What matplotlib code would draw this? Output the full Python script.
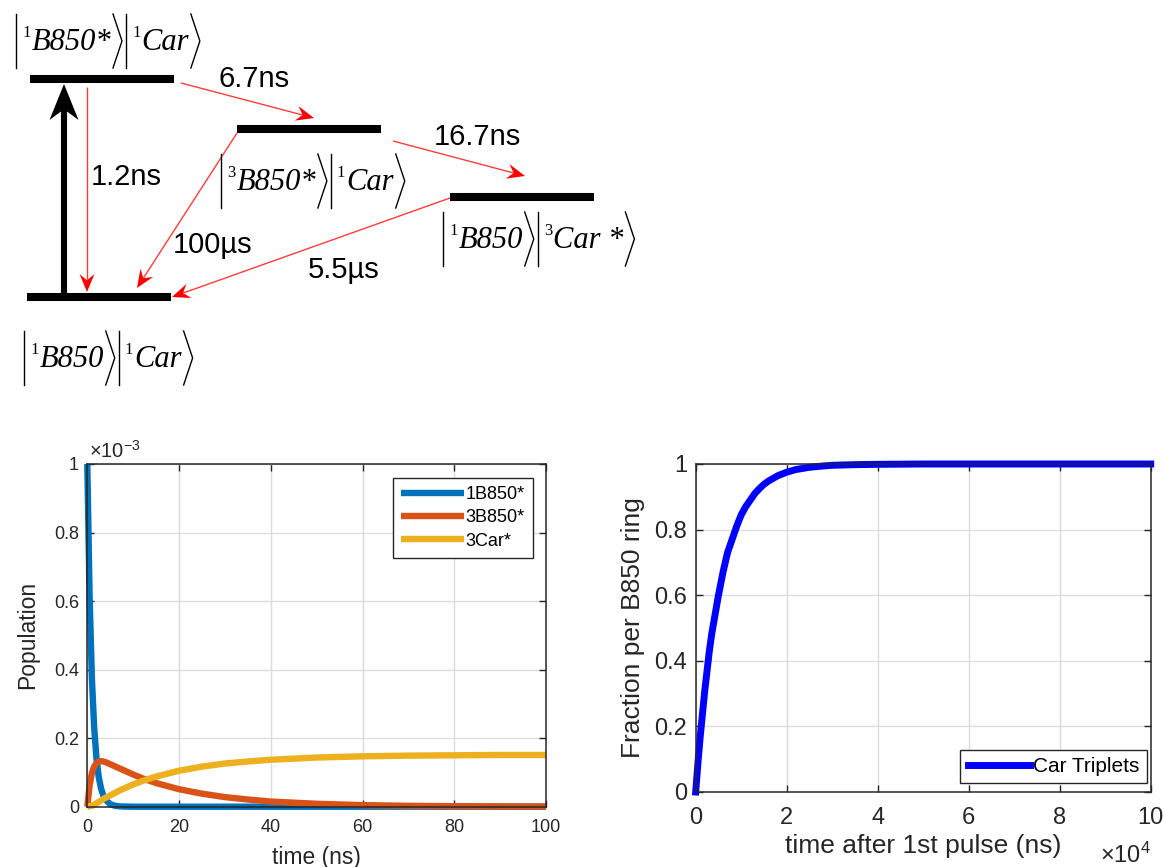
import matplotlib
matplotlib.use('Agg')
import matplotlib.pyplot as plt
import numpy as np
from matplotlib.ticker import FixedLocator, FuncFormatter

plt.rcParams['font.family'] = ['Liberation Sans', 'DejaVu Sans']
plt.rcParams['mathtext.fontset'] = 'custom'
plt.rcParams['mathtext.rm'] = 'Liberation Sans'
plt.rcParams['mathtext.it'] = 'Liberation Sans:italic'
plt.rcParams['mathtext.bf'] = 'Liberation Sans:bold'

# ---------------- data ----------------
# each state: list of (spin multiplicity superscript, species) kets
state_singlet = [('1', 'B850*'), ('1', 'Car')]
state_b850_triplet = [('3', 'B850*'), ('1', 'Car')]
state_car_triplet = [('1', 'B850'), ('3', 'Car *')]
state_ground = [('1', 'B850'), ('1', 'Car')]

lifetime_isc = '6.7ns'
lifetime_tt = '16.7ns'
lifetime_fluor = '1.2ns'
lifetime_b850_trip = '100µs'
lifetime_car_trip = '5.5µs'

# populations (units of 1e-3) vs time (ns)
t_pop = [0, 0.5, 1, 1.5, 2, 2.5, 3, 3.5, 4, 5, 6, 7, 8, 10, 12, 15, 20, 25,
         30, 35, 40, 50, 60, 70, 80, 90, 100]
pop_1B850 = [1.0, 0.612, 0.375, 0.23, 0.141, 0.086, 0.053, 0.032, 0.02, 0.0074,
             0.0028, 0.001, 0.0004, 0, 0, 0, 0, 0, 0, 0, 0, 0, 0, 0, 0, 0, 0]
pop_3B850 = [0, 0.062, 0.098, 0.117, 0.127, 0.132, 0.133, 0.132, 0.130, 0.124,
             0.118, 0.112, 0.106, 0.094, 0.083, 0.069, 0.051, 0.038, 0.028,
             0.021, 0.015, 0.0085, 0.0046, 0.0025, 0.0014, 0.0008, 0.0004]
pop_3Car = [0, 0.001, 0.0035, 0.006, 0.0100, 0.014, 0.018, 0.022, 0.026, 0.033,
            0.040, 0.047, 0.053, 0.065, 0.075, 0.088, 0.105, 0.117, 0.126,
            0.132, 0.137, 0.1435, 0.147, 0.149, 0.150, 0.151, 0.151]
series_names = ['1B850*', '3B850*', '3Car*']

# car triplet fraction vs time after 1st pulse (units of 1e4 ns)
t_pulse = [0, 0.05, 0.1, 0.15, 0.2, 0.25, 0.3, 0.35, 0.4, 0.45, 0.5, 0.6, 0.7,
           0.8, 0.9, 1.0, 1.1, 1.2, 1.3, 1.4, 1.5, 1.6, 1.8, 2.0, 2.2, 2.5,
           2.8, 3.0, 3.5, 4.0, 5, 6, 7, 8, 9, 10]
car_triplets = [0, 0.09, 0.17, 0.24, 0.31, 0.37, 0.43, 0.48, 0.52, 0.56, 0.60,
                0.67, 0.73, 0.77, 0.81, 0.845, 0.87, 0.89, 0.91, 0.925, 0.938,
                0.948, 0.964, 0.975, 0.983, 0.99, 0.994, 0.996, 0.998, 0.999,
                1.0, 1.0, 1.0, 1.0, 1.0, 1.0]
car_name = 'Car Triplets'

# ---------------- figure ----------------
W, H = 1164, 867
fig = plt.figure(figsize=(W / 100, H / 100), dpi=100)
ren = fig.canvas.get_renderer()

# energy level diagram drawn in pixel coordinates
dg = fig.add_axes([0, 0, 1, 1])
dg.set_xlim(0, W)
dg.set_ylim(H, 0)
dg.axis('off')

for x0, x1, y in [(30, 174, 79), (237, 381, 129), (450, 594, 197), (27, 171, 297)]:
    dg.plot([x0, x1], [y, y], color='black', lw=5.8, solid_capstyle='butt')


def arrow(p0, p1, color, lw, hl, hw, notch=0.3, head_color=None):
    x0, y0 = p0
    x1, y1 = p1
    L = np.hypot(x1 - x0, y1 - y0)
    dx, dy = (x1 - x0) / L, (y1 - y0) / L
    nx, ny = -dy, dx
    bx, by = x1 - dx * hl, y1 - dy * hl
    mx, my = x1 - dx * hl * (1 - notch), y1 - dy * hl * (1 - notch)
    dg.plot([x0, mx], [y0, my], color=color, lw=lw, solid_capstyle='butt')
    dg.fill([x1, bx + nx * hw / 2, mx, bx - nx * hw / 2],
            [y1, by + ny * hw / 2, my, by - ny * hw / 2],
            color=head_color or color, lw=0)


arrow((64, 297), (64, 84), 'black', 4.4, 36, 29, notch=0.3)
for p0, p1 in [((87, 87), (87, 292)), ((181, 83), (314, 118)),
               ((393, 141), (525, 176)), ((237, 133), (137, 288)),
               ((450, 198), (172, 297))]:
    arrow(p0, p1, '#FF3B3B', 1.0, 18, 15, notch=0.35, head_color='#FF0000')


def ket_group(x, yc, parts):
    top, bot = yc - 27, yc + 27
    base = yc + 9
    for sup, body in parts:
        dg.plot([x, x], [top, bot], color='black', lw=1.0)
        x += 6
        t = dg.text(x, base - 13, sup, fontsize=12, family='Liberation Serif',
                    va='baseline', ha='left')
        x += t.get_window_extent(ren).width + 1
        t = dg.text(x, base, body, fontsize=22, family='Liberation Serif',
                    style='italic', va='baseline', ha='left')
        x += t.get_window_extent(ren).width + 2
        dg.plot([x, x + 9, x], [top, yc, bot], color='black', lw=1.0)
        x += 13


ket_group(16, 41, state_singlet)
ket_group(221, 181, state_b850_triplet)
ket_group(443, 239, state_car_triplet)
ket_group(24, 358, state_ground)

lt_kw = dict(fontsize=21, family=['Liberation Sans'], ha='center', va='baseline')
dg.text(254, 87, lifetime_isc, **lt_kw)
dg.text(477, 145, lifetime_tt, **lt_kw)
dg.text(126, 185, lifetime_fluor, **lt_kw)
dg.text(213, 253, lifetime_b850_trip, **lt_kw)
dg.text(344, 278, lifetime_car_trip, **lt_kw)

AX = '#262626'


def style(ax, labelsize, xpad, ypad):
    for s in ax.spines.values():
        s.set_color(AX)
        s.set_linewidth(1.1)
    ax.tick_params(direction='in', length=5, width=1.0, colors=AX, top=True,
                   right=True, labelsize=labelsize)
    ax.tick_params(axis='x', pad=xpad)
    ax.tick_params(axis='y', pad=ypad)
    ax.grid(True, color='#DCDCDC', lw=1.0)
    ax.set_axisbelow(True)


fmt = FuncFormatter(lambda v, p: '%g' % round(v, 6))

# ---- left: populations ----
axL = fig.add_axes([87.3 / W, (H - 806.7) / H, (546 - 87.3) / W, (806.7 - 464) / H])
colors = ['#0072BD', '#D95319', '#EDB120']
for vals, c, name in zip([pop_1B850, pop_3B850, pop_3Car], colors, series_names):
    axL.plot(t_pop, vals, color=c, lw=4.6, label=name, solid_capstyle='butt',
             clip_on=False)
axL.set_xlim(0, 100)
axL.set_ylim(0, 1)
axL.xaxis.set_major_locator(FixedLocator([0, 20, 40, 60, 80, 100]))
axL.yaxis.set_major_locator(FixedLocator([0, 0.2, 0.4, 0.6, 0.8, 1]))
axL.yaxis.set_major_formatter(fmt)
style(axL, 13, 9, 6)
axL.set_ylabel('Population', fontsize=16.5, color=AX)
axL.yaxis.set_label_coords(-0.105, 0.5)
axL.set_xlabel('time (ns)', fontsize=16.5, color=AX)
axL.xaxis.set_label_coords(0.5, -0.115)
axL.text(0.003, 1.0175, r'$\times10^{-3}$', transform=axL.transAxes,
         fontsize=14.5, color=AX, ha='left', va='baseline')
legL = axL.legend(loc='upper right', bbox_to_anchor=(0.9717, 0.959),
                  borderaxespad=0, fontsize=13, handlelength=3.5,
                  handletextpad=0.1, labelspacing=0.35, borderpad=0.45,
                  fancybox=False, framealpha=1, edgecolor=AX)
legL.get_frame().set_linewidth(1.0)

# ---- right: car triplets ----
axR = fig.add_axes([695.7 / W, (H - 792) / H, (1150.7 - 695.7) / W, (792 - 464) / H])
axR.plot(t_pulse, car_triplets, color='#0000FF', lw=5, label=car_name,
         clip_on=False)
axR.set_xlim(0, 10)
axR.set_ylim(0, 1)
axR.xaxis.set_major_locator(FixedLocator([0, 2, 4, 6, 8, 10]))
axR.yaxis.set_major_locator(FixedLocator([0, 0.2, 0.4, 0.6, 0.8, 1]))
axR.yaxis.set_major_formatter(fmt)
style(axR, 17, 11, 6)
axR.set_ylabel('Fraction per B850 ring', fontsize=19, color=AX)
axR.yaxis.set_label_coords(-0.111, 0.5)
axR.set_xlabel('time after 1st pulse (ns)', fontsize=19, color=AX)
axR.xaxis.set_label_coords(0.5, -0.128)
axR.text(1.0, -0.216, r'$\times10^{4}$', transform=axR.transAxes,
         fontsize=17, color=AX, ha='right', va='baseline')
legR = axR.legend(loc='lower right', bbox_to_anchor=(0.992, 0.027),
                  borderaxespad=0, fontsize=15, handlelength=3.0,
                  handletextpad=0.15, borderpad=0.35,
                  fancybox=False, framealpha=1, edgecolor=AX)
legR.get_frame().set_linewidth(1.0)

fig.savefig('out.png', dpi=100)
